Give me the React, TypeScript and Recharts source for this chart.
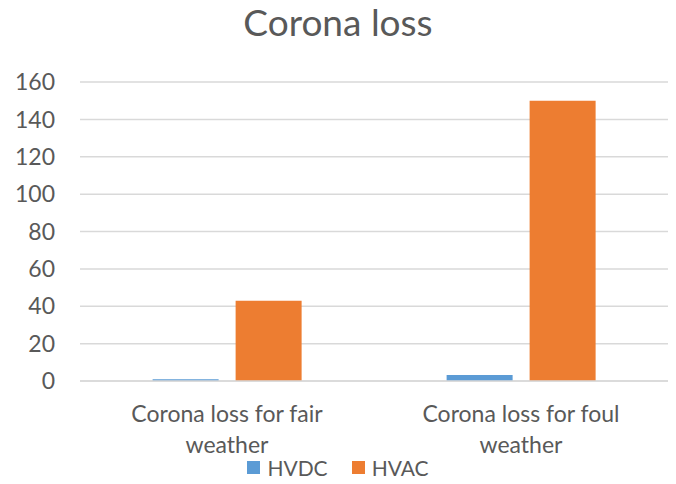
import React from 'react';
import { BarChart, Bar, XAxis, YAxis, CartesianGrid } from 'recharts';

const categories = ['Corona loss for fair weather', 'Corona loss for foul weather'];
const seriesNames = ['HVDC', 'HVAC'];
const seriesColors = ['#5B9BD5', '#ED7D31'];
const hvdc = [1, 3.2];
const hvac = [43, 150];
const yTicks = [0, 20, 40, 60, 80, 100, 120, 140, 160];

const data = categories.map((name, i) => ({ name, HVDC: hvdc[i], HVAC: hvac[i] }));

const FONT = 'Lato, "Open Sans", sans-serif';
const TEXT = '#595959';

function CategoryTick(props: any) {
  const { x, y, payload } = props;
  const s = String(payload.value);
  const cut = s.lastIndexOf(' ');
  const lines = [s.slice(0, cut), s.slice(cut + 1)];
  return (
    <text x={x} y={y} textAnchor="middle" fill={TEXT} fontSize={23} fontFamily={FONT}>
      {lines.map((l, i) => (
        <tspan key={i} x={x} dy={i === 0 ? 41 : 31}>
          {l}
        </tspan>
      ))}
    </text>
  );
}

export default function App() {
  return (
    <div style={{ position: 'absolute', left: 0, top: 0, width: 676, height: 484, background: '#fff', fontFamily: FONT }}>
      <div style={{ position: 'absolute', top: 3, width: 676, textAlign: 'center', fontSize: 37, lineHeight: '38px', color: TEXT }}>
        Corona loss
      </div>
      <BarChart
        width={676}
        height={484}
        data={data}
        margin={{ top: 82, right: 8, bottom: 33, left: 0 }}
        barCategoryGap="24.7%"
        barGap={17}
      >
        <CartesianGrid vertical={false} stroke="#D9D9D9" strokeWidth={1.5} />
        <XAxis
          dataKey="name"
          tick={(p: any) => <CategoryTick {...p} />}
          tickLine={false}
          tickSize={0}
          axisLine={{ stroke: '#D9D9D9', strokeWidth: 1.5 }}
          height={70}
          interval={0}
          tickMargin={0}
        />
        <YAxis
          domain={[0, 160]}
          ticks={yTicks}
          width={80}
          axisLine={false}
          tickLine={false}
          tickSize={0}
          tickMargin={25}
          tick={{ fill: TEXT, fontSize: 23, fontFamily: FONT }}
        />
        <Bar dataKey="HVDC" fill={seriesColors[0]} isAnimationActive={false} />
        <Bar dataKey="HVAC" fill={seriesColors[1]} isAnimationActive={false} />
      </BarChart>
      <div
        style={{
          position: 'absolute',
          top: 455,
          width: 676,
          display: 'flex',
          justifyContent: 'center',
          gap: 24,
          fontSize: 21,
          color: TEXT,
        }}
      >
        {seriesNames.map((n, i) => (
          <div key={n} style={{ display: 'flex', alignItems: 'center' }}>
            <span style={{ width: 13, height: 13, background: seriesColors[i], marginRight: 7, display: 'inline-block' }} />
            {n}
          </div>
        ))}
      </div>
    </div>
  );
}
